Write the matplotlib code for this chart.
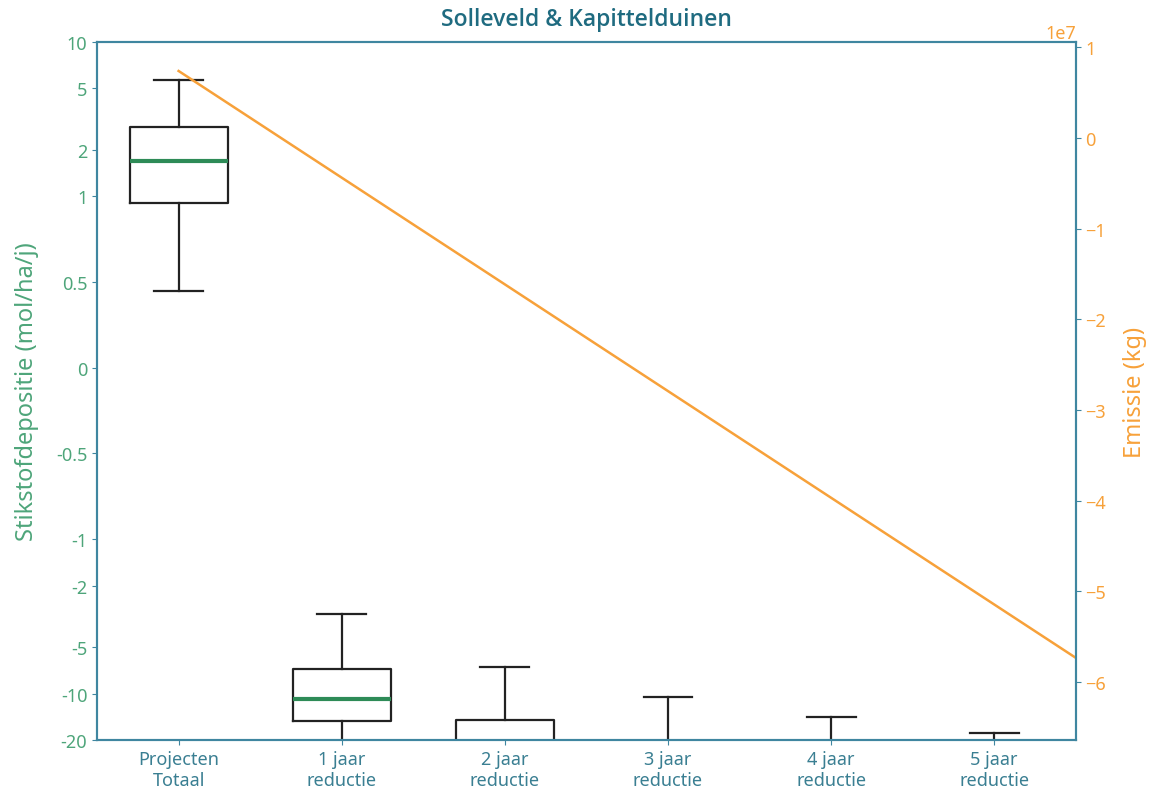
import numpy as np
import matplotlib
matplotlib.use('Agg')
import matplotlib.pyplot as plt

plt.rcParams['font.family'] = ['Noto Sans', 'DejaVu Sans']

# boxplot stats (mol/ha/j)
labels = ['Projecten\nTotaal', '1 jaar\nreductie', '2 jaar\nreductie',
          '3 jaar\nreductie', '4 jaar\nreductie', '5 jaar\nreductie']
whislo = [0.45, -40, -60, -80, -100, -120]
q1 = [0.96, -15.0, -25, -35, -45, -55]
med = [1.69, -10.9, -23.7, -30, -38, -48]
q3 = [2.82, -6.9, -14.8, -25, -30, -40]
whishi = [5.7, -3.07, -6.7, -10.5, -14.1, -17.9]

# emissie (kg)
emis_x = [1, 2, 3, 4, 5, 6, 7]
emis = [0.74e7, -0.437e7, -1.614e7, -2.791e7, -3.968e7, -5.145e7, -6.322e7]

green = '#4ea57a'
teal = '#1f6b80'
spine = '#3f86a0'
orange = '#f7a13a'

stats = []
for i in range(len(labels)):
    stats.append({'whislo': whislo[i], 'q1': q1[i], 'med': med[i],
                  'q3': q3[i], 'whishi': whishi[i], 'fliers': []})

fig, ax1 = plt.subplots(figsize=(11.58, 8.03), dpi=100)
fig.subplots_adjust(left=0.0838, right=0.929, top=0.9465, bottom=0.0772)

ax1.bxp(stats, positions=range(1, 7), widths=0.6, showfliers=False,
        boxprops=dict(color='#222222', linewidth=1.6),
        whiskerprops=dict(color='#222222', linewidth=1.6),
        capprops=dict(color='#222222', linewidth=1.6),
        medianprops=dict(color='#2e8b57', linewidth=3))

ax1.set_yscale('symlog', linthresh=1, linscale=1)
ax1.set_ylim(-20, 10)
yt = [10, 5, 2, 1, 0.5, 0, -0.5, -1, -2, -5, -10, -20]
ax1.set_yticks(yt)
ax1.set_yticks([], minor=True)
ax1.set_yticklabels([str(v) for v in yt])
ax1.set_xlim(0.5, 6.5)
ax1.set_xticks(range(1, 7))
ax1.set_xticklabels(labels)
ax1.set_ylabel('Stikstofdepositie (mol/ha/j)', color=green, fontsize=17,
               labelpad=12)
ax1.tick_params(axis='y', colors=spine, labelcolor=green, labelsize=13)
ax1.tick_params(axis='x', colors=spine, labelcolor='#3a7f92', labelsize=13)

ax2 = ax1.twinx()
ax2.plot(emis_x, emis, color=orange, linewidth=1.8)
ax2.set_xlim(0.5, 6.5)
ax2.set_ylim(-6.64e7, 1.06e7)
ax2.set_ylabel('Emissie (kg)', color=orange, fontsize=17, labelpad=12)
ax2.tick_params(axis='y', colors=spine, labelcolor=orange, labelsize=13)
ax2.yaxis.get_offset_text().set_color(orange)
ax2.yaxis.get_offset_text().set_fontsize(13)

for ax in (ax1, ax2):
    for s in ax.spines.values():
        s.set_color(spine)
        s.set_linewidth(1.5)

ax1.set_title('Solleveld & Kapittelduinen', color=teal, fontsize=16.5,
              fontweight='semibold', family=['Open Sans', 'DejaVu Sans'],
              pad=12)

plt.savefig('out.png', dpi=100)
